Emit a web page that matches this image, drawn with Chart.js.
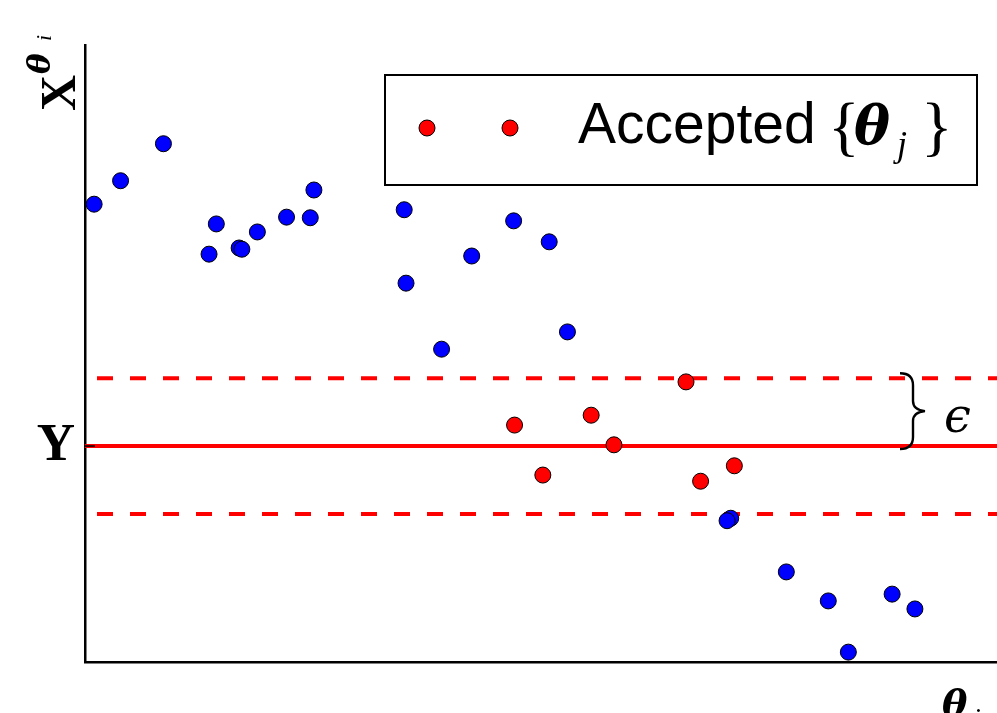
<!DOCTYPE html>
<html>
<head>
<meta charset="utf-8">
<script src="https://cdn.jsdelivr.net/npm/chart.js@4.4.1/dist/chart.umd.min.js"></script>
<style>
  html, body { margin: 0; padding: 0; background: #fff; overflow: hidden; }
  #wrap { position: relative; width: 997px; height: 713px; }
</style>
</head>
<body>
<div id="wrap"><canvas id="abc"></canvas></div>
<script>
// Simulated parameters theta_i (x) and the summary statistic X^{theta_i} (y)
const rejectedTheta = [0.10, 0.39, 0.86, 1.36, 1.44, 1.69, 1.72, 1.89, 2.21, 2.47, 2.51, 3.50, 3.52, 3.91, 4.24, 4.70, 5.09, 5.29, 7.08, 7.04, 7.69, 8.15, 8.37, 8.85, 9.10];
const rejectedStat  = [7.42, 7.80, 8.40, 6.61, 7.10, 6.71, 6.69, 6.97, 7.21, 7.20, 7.65, 7.33, 6.14, 5.07, 6.58, 7.15, 6.81, 5.35, 2.33, 2.29, 1.46, 0.99, 0.16, 1.10, 0.86];

// Draws that fall inside the tolerance band
const acceptedTheta = [4.71, 5.02, 5.55, 5.80, 6.59, 6.75, 7.12];
const acceptedStat  = [3.84, 3.03, 4.00, 3.52, 4.54, 2.93, 3.18];

// Observed statistic Y and tolerance epsilon
const observedY = 3.5;
const epsilon = 1.1;
const thetaRange = [0, 10];
const statRange = [0, 10];

const toPoints = (xs, ys) => xs.map((x, i) => ({ x: x, y: ys[i] }));
const hLine = (level) => [{ x: thetaRange[0], y: level }, { x: thetaRange[1], y: level }];

const SERIF = '"Liberation Serif", "DejaVu Serif", serif';
const GREEK = '"DejaVu Serif", serif';

const overlay = {
  id: 'overlay',
  afterDraw(chart) {
    const { ctx, chartArea: a, scales: { y } } = chart;
    ctx.save();
    ctx.fillStyle = '#000';
    ctx.strokeStyle = '#000';

    // inward tick at the observed value
    const yPix = y.getPixelForValue(observedY);
    ctx.lineWidth = 1.5;
    ctx.beginPath();
    ctx.moveTo(a.left, yPix);
    ctx.lineTo(a.left + 10, yPix);
    ctx.stroke();

    // tick label "Y"
    ctx.font = 'bold 53px ' + SERIF;
    ctx.textAlign = 'right';
    ctx.textBaseline = 'alphabetic';
    ctx.fillText('Y', 75, yPix + 14);

    // y-axis title X^{theta_i}
    ctx.save();
    ctx.translate(75, 111);
    ctx.rotate(-Math.PI / 2);
    ctx.textAlign = 'left';
    ctx.font = 'bold 50px ' + SERIF;
    ctx.fillText('X', 0, 0);
    ctx.font = 'bold italic 31px ' + GREEK;
    ctx.fillText('\u03B8', 37, -25);
    ctx.font = 'italic 22px ' + SERIF;
    ctx.fillText('i', 70, -24);
    ctx.restore();

    // x-axis title theta_i
    ctx.textAlign = 'left';
    ctx.font = 'bold italic 38px ' + GREEK;
    ctx.fillText('\u03B8', 942, 717);
    ctx.font = 'italic 28px ' + SERIF;
    ctx.fillText('i', 973, 727);

    // brace marking the tolerance epsilon
    const top = y.getPixelForValue(observedY + epsilon) - 5;
    const bot = yPix + 3;
    const mid = (top + bot) / 2;
    ctx.lineWidth = 2.4;
    ctx.beginPath();
    ctx.moveTo(900, top);
    ctx.quadraticCurveTo(913, top, 913, top + 12);
    ctx.lineTo(913, mid - 10);
    ctx.quadraticCurveTo(913, mid - 1, 925, mid);
    ctx.quadraticCurveTo(913, mid + 1, 913, mid + 10);
    ctx.lineTo(913, bot - 12);
    ctx.quadraticCurveTo(913, bot, 900, bot);
    ctx.stroke();
    ctx.font = 'italic 48px ' + GREEK;
    ctx.fillText('\u03F5', 944, 432);

    // legend
    ctx.lineWidth = 2;
    ctx.fillStyle = '#fff';
    ctx.fillRect(385, 75, 592, 110);
    ctx.strokeRect(385, 75, 592, 110);
    ctx.lineWidth = 1;
    [427, 510].forEach(cx => {
      ctx.beginPath();
      ctx.arc(cx, 128, 8, 0, Math.PI * 2);
      ctx.fillStyle = '#ff0000';
      ctx.fill();
      ctx.stroke();
    });
    ctx.fillStyle = '#000';
    ctx.font = '57px "Liberation Sans", Arial, sans-serif';
    ctx.fillText('Accepted', 578, 143);
    ctx.font = '66px ' + SERIF;
    ctx.fillText('{', 828, 148);
    ctx.font = 'bold italic 54px ' + GREEK;
    ctx.fillText('\u03B8', 854, 144);
    ctx.font = 'italic 36px ' + SERIF;
    ctx.fillText('j', 897, 156);
    ctx.font = '66px ' + SERIF;
    ctx.fillText('}', 921, 148);

    ctx.restore();
  }
};

new Chart(document.getElementById('abc'), {
  type: 'scatter',
  data: {
    datasets: [
      {
        label: 'Rejected',
        data: toPoints(rejectedTheta, rejectedStat),
        backgroundColor: '#0000ff',
        borderColor: '#000',
        borderWidth: 1,
        pointRadius: 8,
        clip: false,
        order: 2
      },
      {
        label: 'Accepted',
        data: toPoints(acceptedTheta, acceptedStat),
        backgroundColor: '#ff0000',
        borderColor: '#000',
        borderWidth: 1,
        pointRadius: 8,
        clip: false,
        order: 1
      },
      {
        type: 'line',
        label: 'Y',
        data: hLine(observedY),
        borderColor: '#ff0000',
        borderWidth: 4,
        pointRadius: 0,
        fill: false,
        order: 5
      },
      {
        type: 'line',
        label: 'Y + epsilon',
        data: hLine(observedY + epsilon),
        borderColor: '#ff0000',
        borderWidth: 4,
        borderDash: [16, 17],
        borderDashOffset: 21,
        pointRadius: 0,
        fill: false,
        order: 5
      },
      {
        type: 'line',
        label: 'Y - epsilon',
        data: hLine(observedY - epsilon),
        borderColor: '#ff0000',
        borderWidth: 4,
        borderDash: [16, 17],
        borderDashOffset: 21,
        pointRadius: 0,
        fill: false,
        order: 5
      }
    ]
  },
  options: {
    responsive: true,
    maintainAspectRatio: false,
    animation: false,
    events: [],
    layout: { autoPadding: false, padding: { left: 85, top: 45, right: 0, bottom: 51 } },
    plugins: { legend: { display: false }, tooltip: { enabled: false } },
    scales: {
      x: {
        type: 'linear', min: thetaRange[0], max: thetaRange[1],
        ticks: { display: false },
        grid: { display: false, drawTicks: false },
        border: { display: true, color: '#000', width: 2.5 },
        afterFit(s) { s.height = 0; s.paddingLeft = 0; s.paddingRight = 0; }
      },
      y: {
        type: 'linear', min: statRange[0], max: statRange[1],
        ticks: { display: false },
        grid: { display: false, drawTicks: false },
        border: { display: true, color: '#000', width: 2.5 },
        afterFit(s) { s.width = 0; s.paddingTop = 0; s.paddingBottom = 0; }
      }
    }
  },
  plugins: [overlay]
});
</script>
</body>
</html>
